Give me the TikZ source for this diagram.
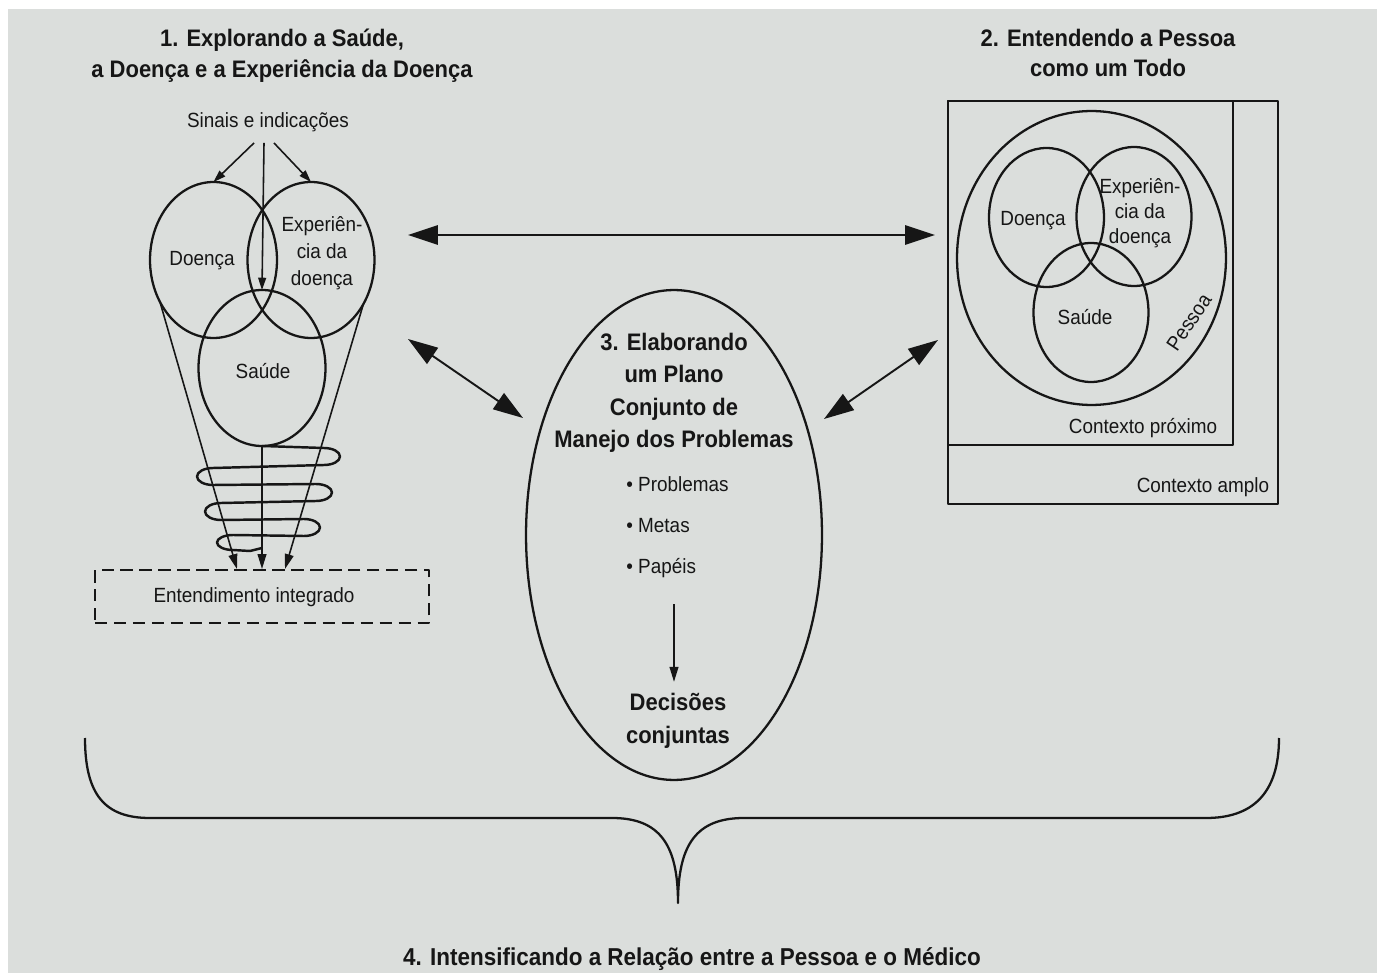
\documentclass[tikz,border=0pt]{standalone}
\usepackage{fontspec}
\setmainfont{Liberation Sans}[FakeStretch=0.92]
\usetikzlibrary{shapes.geometric,arrows.meta,calc}

\definecolor{paper}{RGB}{219,222,220}
\definecolor{ink}{RGB}{22,22,22}

\tikzset{
  lbl/.style={font=\fontsize{11.7}{15.5}\selectfont, text=ink, align=center, inner sep=0pt},
  ttl/.style={font=\bfseries\fontsize{13.6}{17.6}\selectfont, text=ink, align=center, inner sep=0pt},
  venn/.style={draw=ink, ellipse, line width=1.3pt, inner sep=0pt, outer sep=0pt},
  bothtips/.style={{Triangle[length=17pt,width=11pt]}-{Triangle[length=17pt,width=11pt]}, line width=1.1pt, draw=ink},
  smalltip/.style={-{Triangle[length=7pt,width=4.5pt]}, line width=0.9pt, draw=ink},
  funneltip/.style={-{Triangle[length=8.5pt,width=5pt]}, line width=0.9pt, draw=ink},
  tipR/.style={start angle=-90, end angle=90, x radius=16, y radius=8.5},
  tipL/.style={start angle=270, end angle=90, x radius=16, y radius=8.5},
}

\begin{document}
\begin{tikzpicture}[x=0.02cm, y=-0.02cm, line join=round]
    \useasboundingbox (0,0) rectangle (1384,973);
    \fill[white] (0,0) rectangle (1384,973);
    \fill[paper] (8,9) rectangle (1377,973);

    % titres
    \node[ttl] (t1) at (282,56) {1. Explorando a Saúde,\\a Doença e a Experiência da Doença};
    \node[ttl] (t2) at (1108,53) {2. Entendendo a Pessoa\\como um Todo};

    % --- bloco 1 : os tres circulos
    \node[lbl] (sinais) at (268,122) {Sinais e indicações};
    \node[venn, minimum width=2.54cm, minimum height=3.12cm] (doenca) at (213.5,260) {};
    \node[venn, minimum width=2.54cm, minimum height=3.12cm] (exper) at (311,260) {};
    \node[venn, minimum width=2.54cm, minimum height=3.12cm] (saude) at (262,368) {};
    \node[lbl] at (202,261) {Doença};
    \node[lbl] at (322,253) {Experiên-\\cia da\\doença};
    \node[lbl] at (263,371) {Saúde};

    \draw[smalltip] ($(sinais.south)+(-14,11)$) -- (doenca.north);
    \draw[smalltip] ($(sinais.south)+(-4,11)$) -- (saude.north);
    \draw[smalltip] ($(sinais.south)+(6,11)$) -- (exper.north);

    % entendimento integrado
    \node[draw=ink, dashed, dash pattern=on 7pt off 3.8pt, line width=1.1pt,
          minimum width=6.68cm, minimum height=1.06cm] (integ) at (262,596.5) {};
    \node[lbl] at (254,597) {Entendimento integrado};

    % funil + espiral
    \draw[funneltip] (doenca.218) -- ($(integ.north)+(-25,0)$);
    \draw[funneltip] (saude.south) -- (integ.north);
    \draw[funneltip] (exper.320) -- ($(integ.north)+(23,0)$);
    \draw[ink, line width=1.4pt] (saude.south) -- (324,448) arc[tipR]
        -- (213,468) arc[tipL] -- (316,484) arc[tipR]
        -- (221,503) arc[tipL] -- (304,519) arc[tipR]
        -- (233,535) arc[tipL, y radius=7.5] -- (250,551) -- (262,548);

    % --- bloco 2 : a pessoa no contexto
    \draw[ink, line width=1.3pt] (948,101) rectangle (1278,504); % contexto amplo
    \draw[ink, line width=1.3pt] (948,101) rectangle (1233,445); % contexto proximo
    \node[venn, minimum width=5.38cm, minimum height=5.88cm] (pessoa) at (1091.5,258) {};
    \node[venn, minimum width=2.3cm, minimum height=2.78cm] (doenca2) at (1046.5,217.5) {};
    \node[venn, minimum width=2.3cm, minimum height=2.78cm] (exper2) at (1134,216.5) {};
    \node[venn, minimum width=2.3cm, minimum height=2.78cm] (saude2) at (1091,312.5) {};
    \node[lbl] at (1033,221) {Doença};
    \node[lbl, font=\fontsize{11.7}{14.2}\selectfont] at (1140,213) {Experiên-\\cia da\\doença};
    \node[lbl] at (1085,317) {Saúde};
    \node[lbl, rotate=56] at (1189,322) {Pessoa};
    \node[lbl] at (1143,428) {Contexto próximo};
    \node[lbl] at (1203,487) {Contexto amplo};

    % --- bloco 3 : plano conjunto
    \node[venn, minimum width=5.92cm, minimum height=9.8cm] (elab) at (674,535) {};
    \node[ttl, font=\bfseries\fontsize{13.6}{18.5}\selectfont] (plano) at (674,393)
        {3. Elaborando\\um Plano\\Conjunto de\\Manejo dos Problemas};
    \foreach \txt/\y/\nm in {Problemas/484/prob, Metas/526/metas, Papéis/568/papeis}
        \node[lbl, anchor=west] (\nm) at (626,\y) {\textbullet\ \txt};
    \node[ttl, font=\bfseries\fontsize{13.6}{18.5}\selectfont] (decis) at (678,721) {Decisões\\conjuntas};
    \draw[funneltip, shorten >=6.5pt] (elab.center |- papeis.south) ++(0,26) -- (elab.center |- decis.north);

    % setas duplas entre os blocos
    \coordinate (hl) at (408,235);
    \coordinate (hr) at (935,235);
    \coordinate (dl1) at (408,339);
    \coordinate (dl2) at (523,418);
    \coordinate (dr1) at (938,340);
    \coordinate (dr2) at (824,419);
    \draw[bothtips] (hl) -- (hr);
    \draw[bothtips] (dl1) -- (dl2);
    \draw[bothtips] (dr1) -- (dr2);

    % --- bloco 4 : chave
    \draw[ink, line width=1.3pt] (85,738) .. controls (85,795) and (105,818) .. (150,818)
        -- (612,818) .. controls (660,818) and (678,845) .. (678,903)
        .. controls (678,845) and (696,818) .. (744,818)
        -- (1206,818) .. controls (1251,818) and (1279,795) .. (1279,738);
    \node[ttl, font=\bfseries\fontsize{13.9}{16}\selectfont] (t4) at (692,959)
        {4. Intensificando a Relação entre a Pessoa e o Médico};
\end{tikzpicture}
\end{document}
